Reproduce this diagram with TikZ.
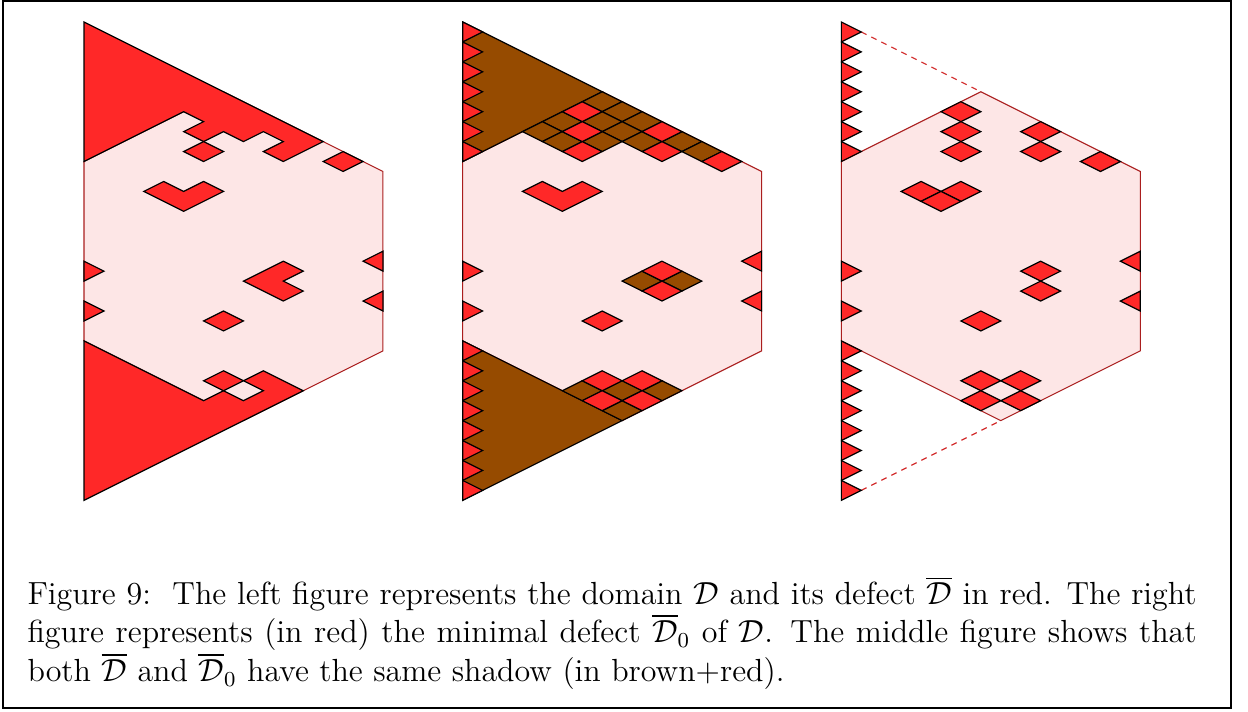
\documentclass[tikz,border=0pt]{standalone}
\usepackage{amsmath}
\definecolor{myred}{RGB}{255,40,40}
\definecolor{mypink}{RGB}{253,230,230}
\definecolor{mybrown}{RGB}{150,75,0}
\definecolor{hexred}{RGB}{170,30,30}
\definecolor{dashred}{RGB}{210,45,45}
\tikzset{
  lat/.style={x={(-7.474pt,-3.737pt)}, y={(7.474pt,-3.737pt)}},
  hexbox/.style={fill=mypink, draw=hexred, line width=0.4pt, line join=miter},
  redcell/.style={fill=myred, draw=black, line width=0.45pt, line join=miter},
  browncell/.style={fill=mybrown, draw=black, line width=0.45pt, line join=miter},
  holecell/.style={fill=mypink, draw=black, line width=0.45pt, line join=miter},
  shadowline/.style={draw=dashred, line width=0.45pt, dash pattern=on 2.2pt off 2pt}
}
\begin{document}
\begin{tikzpicture}[x=0.375pt,y=-0.375pt]
\useasboundingbox (0,0) rectangle (1248,711);
\draw[line width=0.75pt] (3,1) rectangle (1231,708);

% ---------------- left figure ----------------
\begin{scope}[shift={(84,22)}]
\begin{scope}[lat]
\path[hexbox] (0,7)--(0,15)--(9,24)--(16,24)--(16,16)--(7,7)--cycle;
\path[redcell] (0,0)--(0,12)--(2,12)--(2,11)--(1,11)--(1,10)--(2,10)--(2,9)--(3,9)--(3,8)--(2,8)--(2,7)--(7,7)--cycle;
\foreach \p/\q in {3/9,0/13,11/18}
  \path[redcell] (\p,\q) -- ++(1,0) -- ++(0,1) -- ++(-1,0) -- cycle;
\path[redcell] (6,10)--(7,10)--(7,12)--(5,12)--(5,11)--(6,11)--cycle;
\path[redcell] (7,17)--(9,17)--(9,19)--(8,19)--(8,18)--(7,18)--cycle;
\path[redcell] (12,12)--(12,13)--(13,13)--cycle;
\path[redcell] (14,14)--(14,15)--(15,15)--cycle;
\path[redcell] (4,19)--(5,19)--(5,20)--cycle;
\path[redcell] (6,21)--(7,21)--(7,22)--cycle;
\path[redcell] (16,16)--(16,22)--(15,22)--(15,21)--(14,21)--(14,22)--(13,22)--(13,24)--(24,24)--cycle;
\path[holecell] (14,22) -- ++(1,0) -- ++(0,1) -- ++(-1,0) -- cycle;
\end{scope}
\end{scope}

% ---------------- middle figure ----------------
\begin{scope}[shift={(462.67,22)}]
\begin{scope}[lat]
\path[hexbox] (0,7)--(0,15)--(9,24)--(16,24)--(16,16)--(7,7)--cycle;
\path[browncell] (0,0)--(0,7)--(7,7)--cycle;
\path[browncell] (16,16)--(16,24)--(24,24)--cycle;
\foreach \p/\q in {0/7,2/7,3/7,0/8,1/8,3/8,0/9,1/9,2/9,1/10,0/11,0/12,8/17,7/18,15/21,14/22,13/23,15/23}
  \path[browncell] (\p,\q) -- ++(1,0) -- ++(0,1) -- ++(-1,0) -- cycle;
\foreach \p/\q in {1/7,2/8,3/9,0/10,1/11,0/13,7/17,8/18,11/18,14/21,13/22,15/22,14/23}
  \path[redcell] (\p,\q) -- ++(1,0) -- ++(0,1) -- ++(-1,0) -- cycle;
\path[redcell] (6,10)--(7,10)--(7,12)--(5,12)--(5,11)--(6,11)--cycle;
\foreach \k in {0,...,6}
  \path[redcell] (\k,\k) -- ++(0,1) -- ++(1,0) -- cycle;
\foreach \k in {16,...,23}
  \path[redcell] (\k,\k) -- ++(0,1) -- ++(1,0) -- cycle;
\path[redcell] (12,12)--(12,13)--(13,13)--cycle;
\path[redcell] (14,14)--(14,15)--(15,15)--cycle;
\path[redcell] (4,19)--(5,19)--(5,20)--cycle;
\path[redcell] (6,21)--(7,21)--(7,22)--cycle;
\end{scope}
\end{scope}

% ---------------- right figure ----------------
\begin{scope}[shift={(841.34,22)}]
\begin{scope}[lat]
\path[hexbox] (0,7)--(0,15)--(9,24)--(16,24)--(16,16)--(7,7)--cycle;
\coordinate (dA) at (0,1);
\coordinate (dB) at (0,7);
\coordinate (dC) at (23,24);
\coordinate (dD) at (16,24);
\draw[shadowline] (dA) -- (dB);
\draw[shadowline] (dC) -- (dD);
\foreach \p/\q in {1/7,2/8,3/9,0/10,1/11,0/13,6/10,5/11,6/11,7/17,8/18,11/18,14/21,13/22,15/22,14/23}
  \path[redcell] (\p,\q) -- ++(1,0) -- ++(0,1) -- ++(-1,0) -- cycle;
\foreach \k in {0,...,6}
  \path[redcell] (\k,\k) -- ++(0,1) -- ++(1,0) -- cycle;
\foreach \k in {16,...,23}
  \path[redcell] (\k,\k) -- ++(0,1) -- ++(1,0) -- cycle;
\path[redcell] (12,12)--(12,13)--(13,13)--cycle;
\path[redcell] (14,14)--(14,15)--(15,15)--cycle;
\path[redcell] (4,19)--(5,19)--(5,20)--cycle;
\path[redcell] (6,21)--(7,21)--(7,22)--cycle;
\end{scope}
\end{scope}

% ---------------- caption ----------------
\node[name=caption, anchor=north west, inner sep=0pt, text width=438.4pt, align=justify, font=\fontsize{12}{12}\selectfont] at (27,576)
{Figure 9:\ \ The left figure represents the domain $\mathcal{D}$ and its defect $\overline{\mathcal{D}}$ in red. The right figure represents (in red) the minimal defect $\overline{\mathcal{D}}_0$ of $\mathcal{D}$. The middle figure shows that both $\overline{\mathcal{D}}$ and $\overline{\mathcal{D}}_0$ have the same shadow (in brown+red).};
\end{tikzpicture}
\end{document}
